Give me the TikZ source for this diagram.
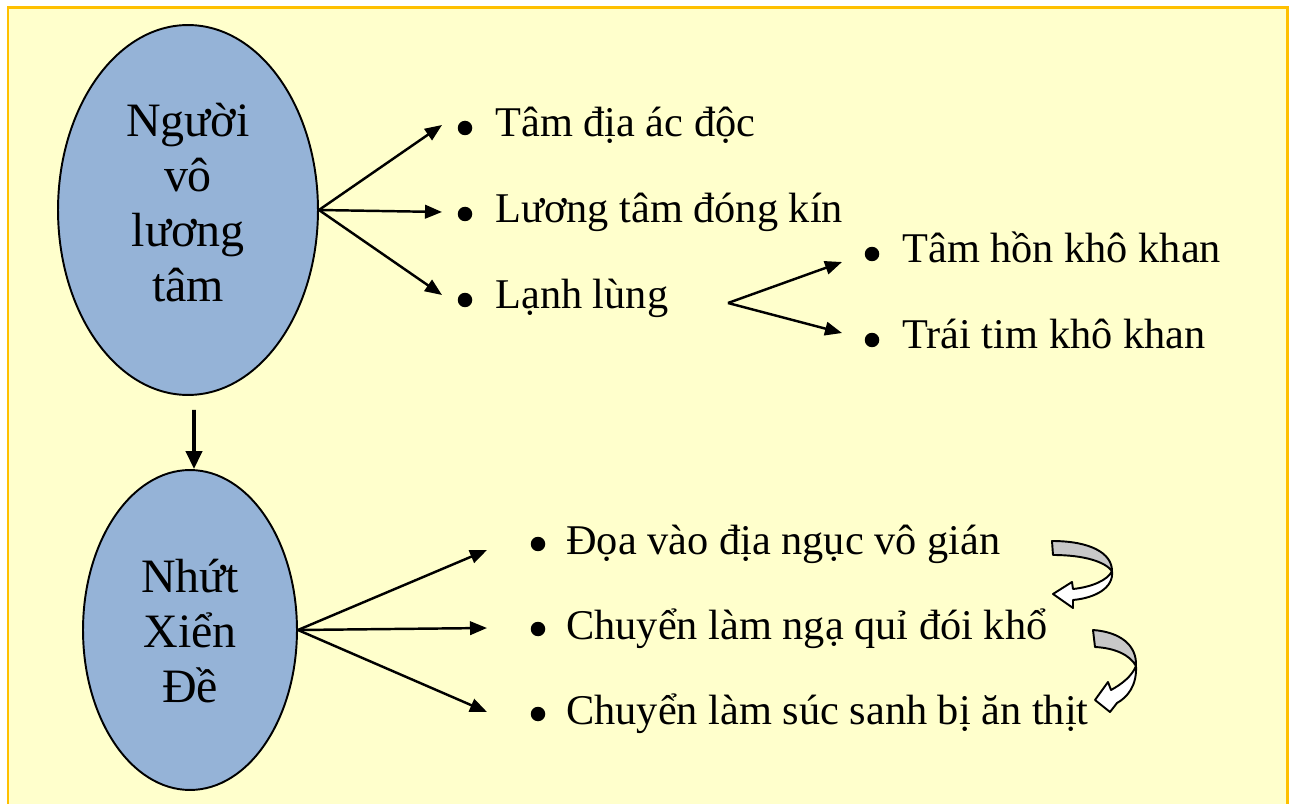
\documentclass[tikz,border=0pt]{standalone}
\usepackage{fontspec}
\setmainfont{Liberation Serif}
\usetikzlibrary{shapes.geometric,arrows.meta}
\definecolor{paper}{HTML}{FFFFCC}
\definecolor{frameline}{HTML}{FFC000}
\definecolor{ovalblue}{HTML}{95B3D7}
\definecolor{turngray}{HTML}{C8C8C8}

\begin{document}
\begin{tikzpicture}[x=0.02cm, y=-0.02cm,
    oval/.style={ellipse, draw, line width=1.1pt, fill=ovalblue, inner sep=0pt},
    ovaltext/.style={inner sep=0pt, align=center, font=\fontsize{27.3}{31.3}\selectfont},
    dot/.style={circle, fill=black, inner sep=0pt, minimum size=0.29cm},
    item/.style={anchor=base west, inner sep=0pt, font=\fontsize{24.1}{29}\selectfont},
    link/.style={-{Triangle[length=0.34cm, width=0.27cm]}, line width=1.4pt},
    turn/.style={draw, line width=1.1pt, line join=round}]

    % khung nền
    \useasboundingbox (0,0) rectangle (1289,804);
    \fill[white] (0,0) rectangle (1289,804);
    \draw[frameline, fill=paper, line width=0.06cm] (8,8) rectangle (1287,840);

    % hai hình bầu dục
    \node[oval, minimum width=5.2cm, minimum height=7.4cm] (e1) at (188,210) {};
    \node[ovaltext] (n1) at (188,203) {Người\\vô\\lương\\tâm};
    \node[oval, minimum width=4.28cm, minimum height=6.4cm] (e2) at (190,630) {};
    \node[ovaltext] (n2) at (190,631) {Nhứt\\Xiển\\Đề};
    \draw[-{Triangle[length=0.36cm, width=0.32cm]}, line width=2.2pt, shorten <=0.28cm]
        ([xshift=0.12cm]e1.south) -- ([xshift=0.08cm]e2.north);

    % nhánh trên
    \foreach \i/\y/\t in {1/137/Tâm địa ác độc, 2/223/Lương tâm đóng kín, 3/309/Lạnh lùng} {
        \node[dot] (a\i) at (465,\y-9) {};
        \node[item] (ta\i) at (495,\y) {\t};
    }
    \coordinate (pa1) at (442,125);
    \coordinate (pa2) at (442,212);
    \coordinate (pa3) at (442,295);
    \foreach \i in {1,2,3} {
        \draw[link] (e1.east) -- (pa\i);
    }

    % nhánh của Lạnh lùng
    \foreach \i/\y/\t in {1/263/Tâm hồn khô khan, 2/349/Trái tim khô khan} {
        \node[dot] (b\i) at (872,\y-9) {};
        \node[item] (tb\i) at (902,\y) {\t};
    }
    \coordinate (split) at (728,303);
    \coordinate (pb1) at (842,262);
    \coordinate (pb2) at (842,333);
    \foreach \i in {1,2} {
        \draw[link] (split) -- (pb\i);
    }

    % nhánh dưới
    \foreach \i/\y/\t in {1/554/Đọa vào địa ngục vô gián, 2/639/Chuyển làm ngạ quỉ đói khổ, 3/724/Chuyển làm súc sanh bị ăn thịt} {
        \node[dot] (c\i) at (538,\y-10) {};
        \node[item] (tc\i) at (566,\y) {\t};
    }
    \coordinate (pc1) at (487,550);
    \coordinate (pc2) at (487,628);
    \coordinate (pc3) at (487,712);
    \foreach \i in {1,2,3} {
        \draw[link] (e2.east) -- (pc\i);
    }

    % mũi tên cong
    \path[turn, fill=turngray] (1052,541) .. controls (1090,541) and (1112,553) .. (1112,571)
        .. controls (1105,562) and (1085,555) .. (1053,555) -- cycle;
    \path[turn, fill=white] (1112,571) .. controls (1114,588) and (1095,598) .. (1073,600)
        -- (1073,608) -- (1053,594) -- (1072,582) -- (1073,589)
        .. controls (1092,587) and (1108,580) .. (1112,571) -- cycle;
    \path[turn, fill=turngray] (1093,630) .. controls (1120,632) and (1137,645) .. (1136,666)
        .. controls (1130,655) and (1115,648) .. (1095,647) -- cycle;
    \path[turn, fill=white] (1136,666) .. controls (1137,685) and (1128,697) .. (1117,703)
        -- (1110,712) -- (1095,700) -- (1108,682) -- (1111,690)
        .. controls (1122,684) and (1132,676) .. (1136,666) -- cycle;

\end{tikzpicture}
\end{document}
